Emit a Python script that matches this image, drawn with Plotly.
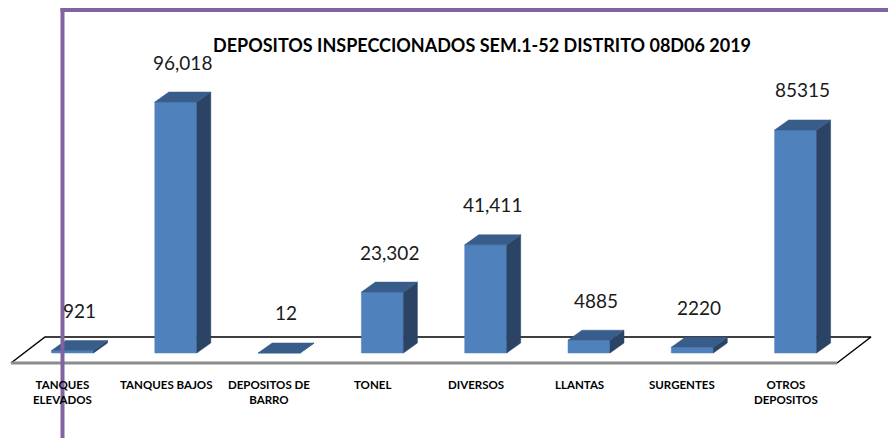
import plotly.graph_objects as go

# ---- data ----
categories = ["TANQUES<br>ELEVADOS", "TANQUES BAJOS", "DEPOSITOS DE<br>BARRO", "TONEL",
              "DIVERSOS", "LLANTAS", "SURGENTES", "OTROS<br>DEPOSITOS"]
values = [921, 96018, 12, 23302, 41411, 4885, 2220, 85315]
value_labels = ["921", "96,018", "12", "23,302", "41,411", "4885", "2220", "85315"]
title_text = "DEPOSITOS INSPECCIONADOS SEM.1-52 DISTRITO 08D06 2019"

# ---- geometry / scale (style) ----
W, H = 896, 438
OFF = 8                                  # page body margin offset
PX0, STEP = 72.5 - OFF, 103.3            # pixel of category 0 center, pixels per category
PY0, YSCALE = 353.0 - OFF, 251.0 / 96018  # pixel of zero, pixels per unit
xpp = 1.0 / STEP
ypp = 1.0 / YSCALE
x_range = [-PX0 * xpp, (W - PX0) * xpp]
y_range = [(PY0 - H) * ypp, PY0 * ypp]

half_w = 21 * xpp
dx, dy = 14 * xpp, 10 * ypp

front_x, front_y, top_x, top_y, side_x, side_y = [], [], [], [], [], []
for i, v in enumerate(values):
    l, r = i - half_w, i + half_w
    front_x += [l, r, r, l, l, None]
    front_y += [0, 0, v, v, 0, None]
    top_x += [l, r, r + dx, l + dx, l, None]
    top_y += [v, v, v + dy, v + dy, v, None]
    side_x += [r, r + dx, r + dx, r, r, None]
    side_y += [0, dy, v + dy, v, 0, None]

fig = go.Figure()

# floor
fl_l, fl_r = -61.5 * xpp, 764.5 * xpp
f_y = -10 * ypp
b_dx, b_y = 34 * xpp, 16 * ypp
fig.add_trace(go.Scatter(x=[fl_l, fl_l + b_dx, fl_r + b_dx, fl_r], y=[f_y, b_y, b_y, f_y],
                         mode="lines", line=dict(color="black", width=1.5), hoverinfo="skip"))
fig.add_trace(go.Scatter(x=[fl_l, fl_r], y=[f_y, f_y], mode="lines",
                         line=dict(color="#8C8C8C", width=3), hoverinfo="skip"))

for xs, ys, col in [(front_x, front_y, "#4F81BD"), (side_x, side_y, "#2B4465"), (top_x, top_y, "#385D8A")]:
    fig.add_trace(go.Scatter(x=xs, y=ys, fill="toself", fillcolor=col, mode="lines",
                             line=dict(color=col, width=0.5), hoverinfo="skip"))

# value labels
for i, (v, t) in enumerate(zip(values, value_labels)):
    fig.add_annotation(x=i + 7 * xpp, y=v + 40 * ypp, text=t, showarrow=False,
                       font=dict(family="Lato", size=19, color="#1a1a1a"),
                       xanchor="center", yanchor="middle")

# category labels
for i, c in enumerate(categories):
    fig.add_annotation(x=i - 10 * xpp, y=-23 * ypp, text="<b>" + c + "</b>",
                       showarrow=False, font=dict(family="Lato", size=11.5, color="black"),
                       xanchor="center", yanchor="top", align="center")

fig.add_annotation(x=(482 - OFF) / W, y=1 - (45 - OFF) / H, xref="paper", yref="paper",
                   text="<b>" + title_text + "</b>", showarrow=False,
                   font=dict(family="Lato", size=18, color="black"),
                   xanchor="center", yanchor="middle")

# purple frame
pc = "#8064A2"
fig.add_shape(type="line", xref="paper", yref="paper", x0=(62.5 - OFF) / W, x1=(62.5 - OFF) / W,
              y0=0, y1=1 - (8 - OFF) / H, line=dict(color=pc, width=4))
fig.add_shape(type="line", xref="paper", yref="paper", x0=(60.5 - OFF) / W, x1=1,
              y0=1 - (10 - OFF) / H, y1=1 - (10 - OFF) / H, line=dict(color=pc, width=4))

fig.update_layout(width=W, height=H, margin=dict(l=0, r=0, t=0, b=0),
                  paper_bgcolor="white", plot_bgcolor="white", showlegend=False,
                  xaxis=dict(range=x_range, visible=False, fixedrange=True),
                  yaxis=dict(range=y_range, visible=False, fixedrange=True))

fig.write_html("out.html")
